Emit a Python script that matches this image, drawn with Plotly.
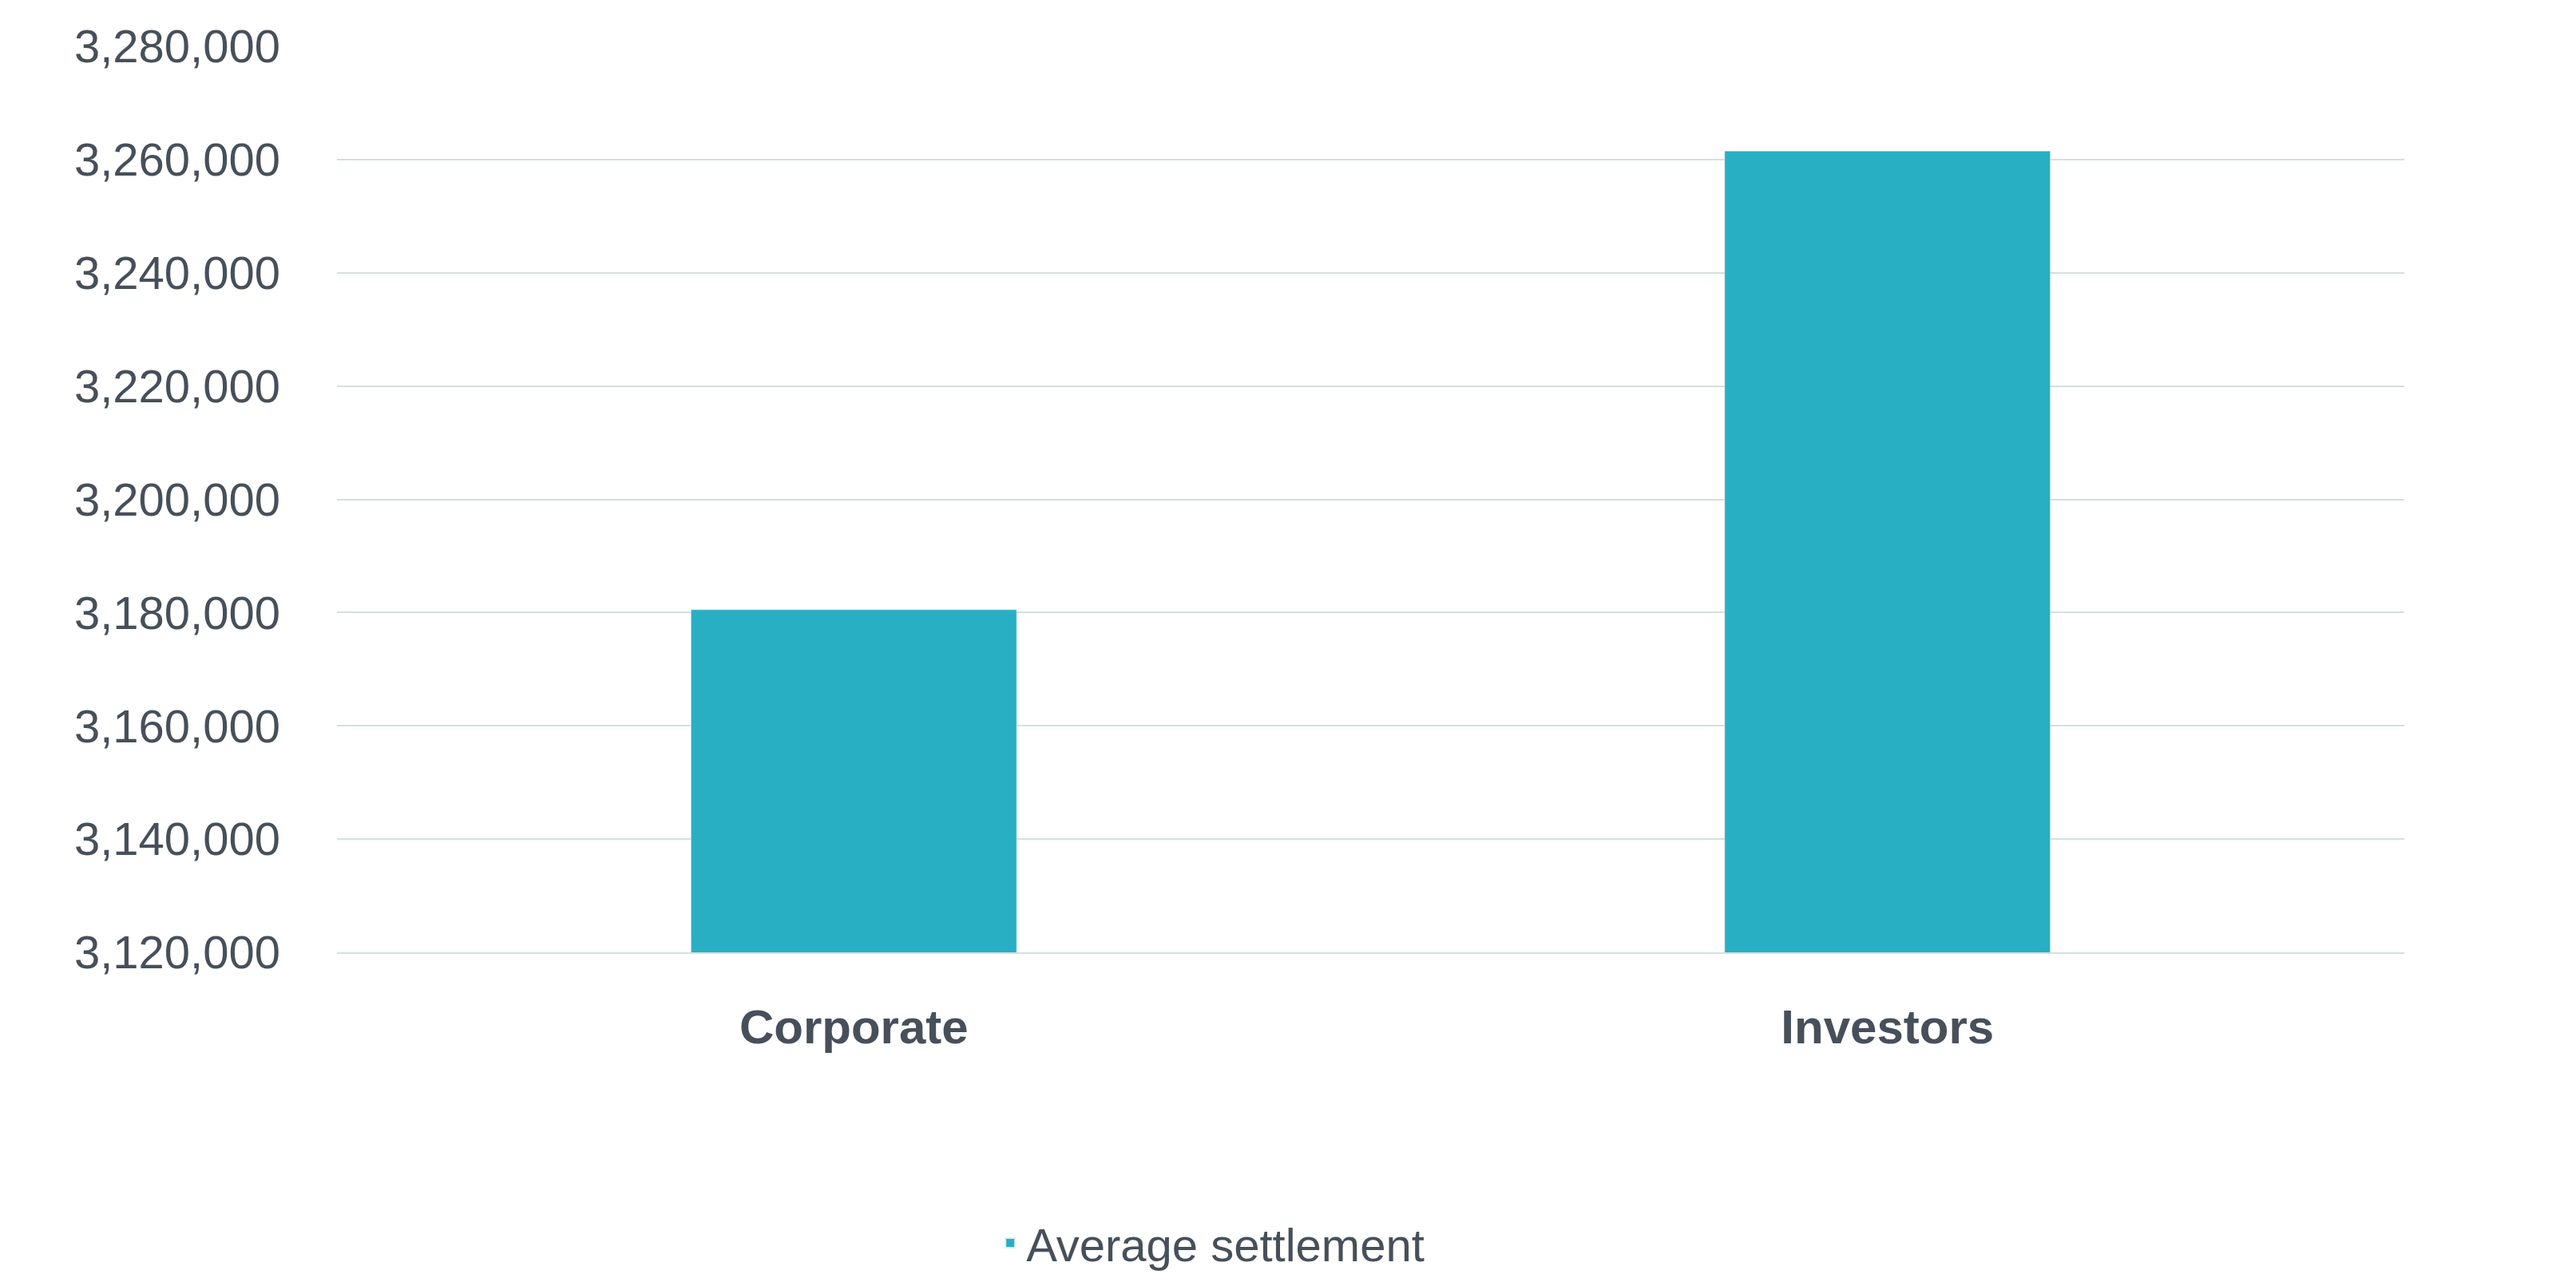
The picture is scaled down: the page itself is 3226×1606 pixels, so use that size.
import plotly.graph_objects as go

categories = ["Corporate", "Investors"]
values = [3180500, 3261500]
tick_vals = [3120000, 3140000, 3160000, 3180000, 3200000, 3220000, 3240000, 3260000, 3280000]

fig = go.Figure(go.Bar(x=categories, y=values, name="Average settlement",
                       marker_color="#29afc3", width=0.315, showlegend=True))
fig.update_layout(
    width=3226, height=1606, plot_bgcolor="white", paper_bgcolor="white",
    margin=dict(l=414, r=223, t=50, b=417),
    font=dict(family="Liberation Sans, Arial, sans-serif", color="#47505a", size=56),
    legend=dict(orientation="h", x=0.423, xanchor="center", y=-0.321, yanchor="middle",
                font=dict(size=58), itemsizing="constant"),
)
fig.update_yaxes(range=[3120000, 3280000], tickvals=tick_vals, tickformat=",",
                 gridcolor="#d3e0e0", gridwidth=2, zeroline=False, showline=False,
                 ticklabelstandoff=70, tickfont=dict(size=58))
fig.update_xaxes(showline=True, linecolor="#d3e0e0", linewidth=2,
                 tickfont=dict(size=60, family="Liberation Sans, Arial, sans-serif"),
                 ticklabelstandoff=40,
                 ticktext=["<b>Corporate</b>", "<b>Investors</b>"], tickvals=categories)
fig.write_html("out.html")
